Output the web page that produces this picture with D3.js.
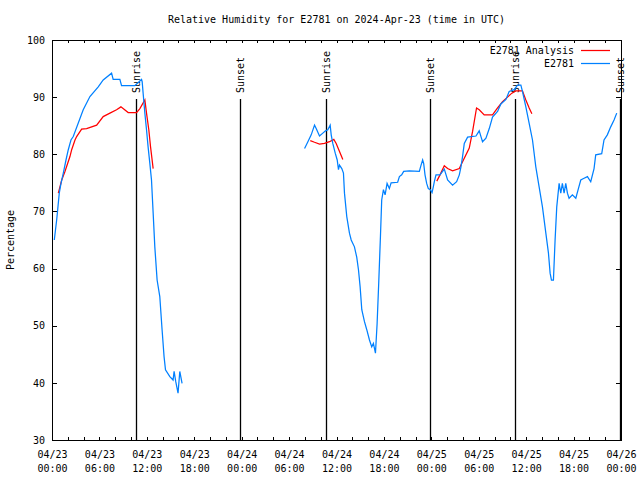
<!DOCTYPE html>
<html>
<head>
<meta charset="utf-8">
<script src="https://cdn.jsdelivr.net/npm/d3@7"></script>
<style>
  html, body { margin: 0; padding: 0; background: #fff; }
  svg { display: block; }
  text { font-family: "DejaVu Sans Mono", "Liberation Mono", monospace; font-size: 10px; fill: #000; }
</style>
</head>
<body>
<svg id="chart" width="640" height="480"></svg>
<script>
// ---- Data (hours after 2024-04-23 00:00 UTC; null = gap) ----
const stationHours = [
  0.29, 0.59, 0.72, 0.92, 1.14, 1.43, 1.77, 2.06, 2.40, 2.69, 3.95, 4.80, 5.85, 6.48, 7.54, 7.74,
  8.59, 8.80, 10.48, 11.33, 11.41, 11.53, 11.75, 11.96, 12.16, 12.38, 12.59, 12.80, 13.01, 13.30,
  13.64, 13.93, 14.18, 14.36, 14.91, 15.32, 15.45, 15.66, 15.95, 16.17, 16.46,
  null,
  31.96, 32.38, 32.80, 33.22, 33.43, 33.85, 34.27, 34.61, 34.90, 35.20, 35.33, 35.53, 35.84, 36.09,
  36.25, 36.38, 36.67, 36.88, 37.01, 37.30, 37.64, 37.86, 38.27, 38.56, 38.78, 38.99, 39.20, 39.54,
  39.83, 40.17, 40.46, 40.67, 40.93, 41.14, 41.34, 41.56, 41.72, 41.94, 42.15, 42.40, 42.69, 42.91,
  43.74, 43.96, 44.25, 44.50, 45.22, 46.48, 46.70, 46.90, 47.03, 47.20, 47.41, 47.62, 47.87, 48.09,
  48.25, 48.38, 48.59, 49.10, 49.64, 50.06, 50.69, 51.20, 51.54, 51.75, 51.95, 52.17, 52.59, 53.65,
  54.06, 54.28, 54.48, 54.91, 55.33, 55.74, 56.38, 56.80, 57.44, 57.85, 58.48, 58.90, 59.33, 59.53,
  59.96, 60.38, 60.80, 61.22, 61.64, 62.06, 62.49, 62.82, 63.03, 63.20, 63.45, 63.66, 63.87, 64.17,
  64.38, 64.58, 64.80, 65.01, 65.22, 65.43, 65.85, 66.28, 66.61, 66.91, 67.33, 67.75, 68.17, 68.59,
  68.80, 69.56, 69.85, 70.27, 70.70, 71.12, 71.46
];
const stationValues = [
  65.0, 68.5, 70.3, 73.2, 74.9, 76.7, 79.0, 80.8, 82.5, 83.1, 87.8, 90.1, 91.8, 93.0, 94.2, 93.1,
  93.1, 92.0, 92.0, 93.1, 92.7, 90.7, 87.2, 84.3, 81.3, 78.4, 75.5, 69.7, 63.8, 58.0,
  55.1, 49.3, 44.6, 42.3, 41.1, 40.5, 42.0, 40.2, 38.2, 42.0, 39.9,
  null,
  81.0, 82.2, 83.4, 85.1, 84.5, 83.2, 83.7, 84.1, 84.3, 85.1, 83.4, 81.9, 80.2, 79.0,
  77.3, 78.1, 77.5, 76.7, 73.2, 69.1, 66.2, 65.0, 63.8, 62.0, 59.8, 56.8, 52.8, 50.7,
  49.3, 47.5, 46.3, 46.9, 45.2, 50.4, 57.4, 65.6, 72.0, 73.8, 72.9, 74.9, 74.0, 75.0,
  75.1, 76.1, 76.4, 77.0, 77.1, 77.0, 78.1, 79.0, 78.4, 76.4, 74.9, 74.0, 73.8, 73.3,
  74.3, 75.2, 76.4, 76.4, 77.4, 75.5, 74.6, 75.2, 76.4, 77.8, 79.6, 81.9, 83.0, 83.2,
  84.1, 83.1, 82.2, 82.8, 84.5, 86.5, 87.5, 88.8, 89.6, 91.0, 91.3, 92.1, 92.1, 91.0,
  88.3, 85.4, 82.5, 77.8, 74.3, 70.8, 66.2, 62.7, 59.2, 58.0, 58.0, 65.0, 70.8, 74.9,
  73.2, 74.9, 73.2, 74.9, 73.2, 72.3, 72.9, 72.3, 74.0, 75.5, 75.8, 76.1, 75.2, 77.5,
  79.9, 80.1, 82.5, 83.4, 84.8, 86.0, 87.2
];
const analysisHours = [
  0.80, 1.23, 1.64, 2.27, 2.49, 2.91, 3.12, 3.75, 4.38, 5.65, 6.48, 7.33, 8.17, 8.72, 9.64, 10.70,
  11.12, 11.75, 11.96, 12.25, 12.47, 12.80,
  null,
  32.68, 33.22, 33.85, 34.48, 35.12, 35.66, 35.96, 36.38, 36.80,
  null,
  48.69, 49.10, 49.64, 50.06, 50.69, 51.54, 51.95, 52.80, 53.22, 53.72, 54.06, 54.69, 55.74, 56.38,
  57.01, 57.64, 58.19, 58.70, 59.53, 59.96, 60.38, 60.72
];
const analysisValues = [
  73.2, 75.5, 77.0, 79.6, 80.8, 82.5, 83.1, 84.4, 84.5, 85.1, 86.6, 87.2, 87.8, 88.3, 87.3, 87.3,
  88.0, 89.5, 87.2, 84.3, 81.3, 77.5,
  null,
  82.4, 82.1, 81.8, 81.9, 82.2, 82.6, 81.9, 80.5, 79.1,
  null,
  75.3, 76.4, 78.0, 77.5, 77.1, 77.5, 78.7, 81.1, 84.0, 88.1, 87.8, 86.9, 86.9, 88.1,
  89.2, 90.0, 90.7, 91.1, 91.1, 89.5, 88.1, 87.1
];
const sunHours = [10.61, 23.75, 34.61, 47.87, 58.61, 71.9];
const sunLabels = ["Sunrise", "Sunset", "Sunrise", "Sunset", "Sunrise", "Sunset"];
const yTicks = [30, 40, 50, 60, 70, 80, 90, 100];
const seriesNames = ["E2781 Analysis", "E2781"];
const seriesColors = ["#ff0000", "#0080ff"];
const titleText = "Relative Humidity for E2781 on 2024-Apr-23 (time in UTC)";
const yLabelText = "Percentage";

// ---- Layout ----
const W = 640, H = 480;
const L = 52, R = 621, T = 40, B = 440;
const t0 = Date.UTC(2024, 3, 23, 0, 0);
const hourMs = 3600 * 1000;
const toDate = h => new Date(t0 + h * hourMs);

const svg = d3.select("#chart");
svg.append("rect").attr("width", W).attr("height", H).attr("fill", "#fff");

const x = d3.scaleUtc().domain([toDate(0), toDate(72)]).range([L, R]);
const y = d3.scaleLinear().domain([30, 100]).range([B, T]);

const majorX = d3.range(0, 73, 6).map(toDate);
const minorX = d3.range(0, 73, 2).map(toDate);

// Title
svg.append("text").attr("x", (L + R) / 2).attr("y", 23)
  .attr("text-anchor", "middle").text(titleText);

// Y label
svg.append("text").attr("transform", `translate(14,${(T + B) / 2}) rotate(-90)`)
  .attr("text-anchor", "middle").text(yLabelText);

// Axes
const fmtDate = d3.utcFormat("%m/%d"), fmtTime = d3.utcFormat("%H:%M");
const bottomMinor = svg.append("g").attr("transform", `translate(0,${B})`)
  .call(d3.axisBottom(x).tickValues(minorX).tickSize(-3).tickFormat(""));
const topMinor = svg.append("g").attr("transform", `translate(0,${T})`)
  .call(d3.axisTop(x).tickValues(minorX).tickSize(-3).tickFormat(""));
const bottomMajor = svg.append("g").attr("transform", `translate(0,${B})`)
  .call(d3.axisBottom(x).tickValues(majorX).tickSizeInner(-3).tickSizeOuter(0).tickPadding(11).tickFormat(fmtDate));
bottomMajor.selectAll(".tick text").each(function(d) {
  const t = d3.select(this);
  t.text(null).attr("font-family", null).attr("font-size", null);
  t.append("tspan").attr("x", 0).attr("dy", "0.71em").text(fmtDate(d));
  t.append("tspan").attr("x", 0).attr("dy", "1.4em").text(fmtTime(d));
});
const leftAxis = svg.append("g").attr("transform", `translate(${L},0)`)
  .call(d3.axisLeft(y).tickValues(yTicks).tickSizeInner(-5).tickSizeOuter(0).tickPadding(7).tickFormat(d3.format("d")));
const rightAxis = svg.append("g").attr("transform", `translate(${R},0)`)
  .call(d3.axisRight(y).tickValues(yTicks).tickSizeInner(-5).tickSizeOuter(0).tickFormat(""));

[bottomMinor, topMinor, bottomMajor, leftAxis, rightAxis].forEach(g => {
  g.select(".domain").remove();
  g.selectAll("line").attr("stroke", "#000").attr("shape-rendering", "crispEdges");
  g.selectAll("text").attr("font-family", null).attr("font-size", null).attr("fill", "#000");
});

// Frame
svg.append("rect").attr("x", L).attr("y", T).attr("width", R - L).attr("height", B - T)
  .attr("fill", "none").attr("stroke", "#000").attr("shape-rendering", "crispEdges");

// Sunrise / sunset markers
const sun = svg.append("g");
sunHours.forEach((h, i) => {
  const sx = Math.round(x(toDate(h))) + 0.5;
  sun.append("line").attr("x1", sx).attr("x2", sx).attr("y1", 99).attr("y2", B)
    .attr("stroke", "#000").attr("stroke-width", 1.3);
  sun.append("text").attr("transform", `translate(${sx + 3.5},93) rotate(-90)`)
    .attr("text-anchor", "start").text(sunLabels[i]);
});

// Series
function makePoints(hs, vs) {
  return hs.map((h, i) => ({ h, v: vs[i] }));
}
const line = d3.line()
  .defined(d => d.h != null && d.v != null)
  .x(d => x(toDate(d.h)))
  .y(d => y(d.v));

svg.append("path").datum(makePoints(analysisHours, analysisValues))
  .attr("d", line).attr("fill", "none").attr("stroke", seriesColors[0]).attr("stroke-width", 1.25);
svg.append("path").datum(makePoints(stationHours, stationValues))
  .attr("d", line).attr("fill", "none").attr("stroke", seriesColors[1]).attr("stroke-width", 1.25);

// Legend
const legend = svg.append("g");
seriesNames.forEach((name, i) => {
  const ly = 50 + i * 13;
  legend.append("text").attr("x", 574).attr("y", ly).attr("dy", "0.35em")
    .attr("text-anchor", "end").text(name);
  legend.append("line").attr("x1", 581).attr("x2", 610).attr("y1", ly + 0.5).attr("y2", ly + 0.5)
    .attr("stroke", seriesColors[i]).attr("stroke-width", 1.25);
});
</script>
</body>
</html>
